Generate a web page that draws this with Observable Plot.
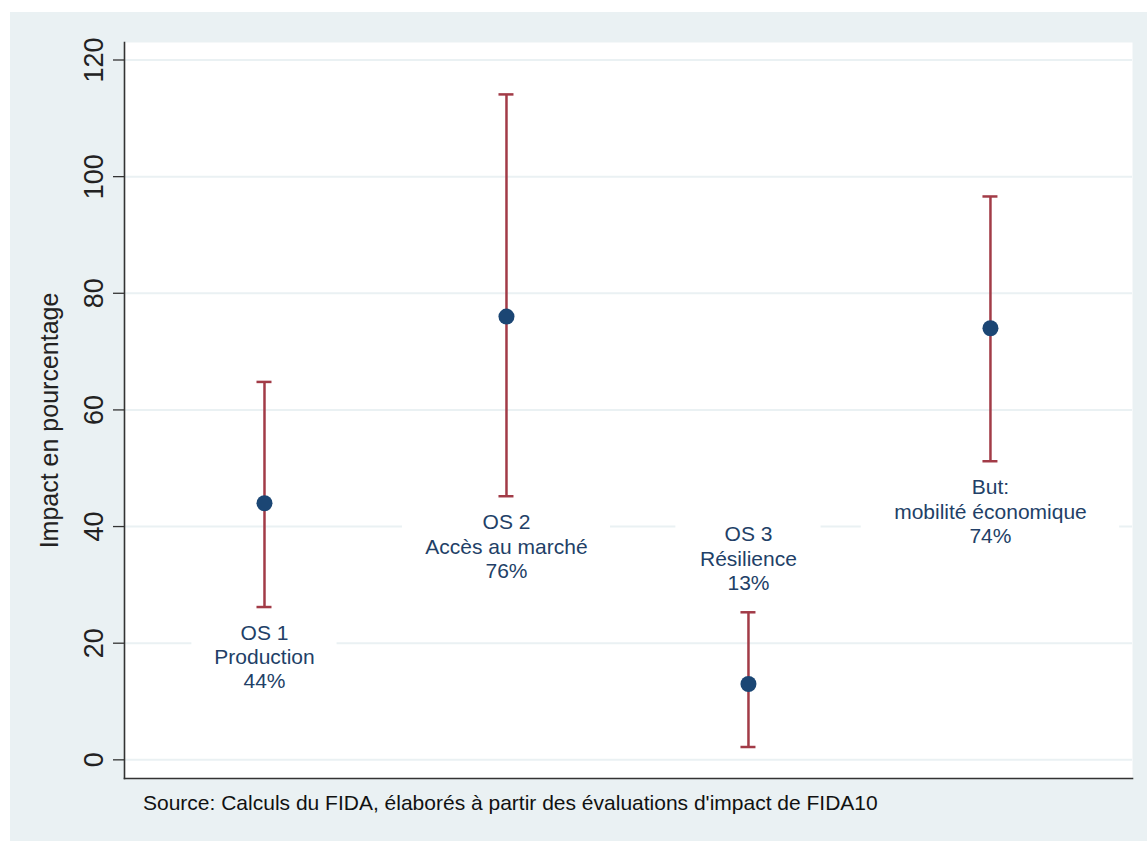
<!DOCTYPE html>
<html><head><meta charset="utf-8">
<script src="https://cdn.jsdelivr.net/npm/d3@7"></script>
<script src="https://cdn.jsdelivr.net/npm/@observablehq/plot@0.6"></script>
<style>
body{margin:0;background:#fff;font-family:"Liberation Sans",Arial,sans-serif;}
#wrap{position:absolute;left:10px;top:12px;width:1137px;height:829px;background:#EAF1F3;}
#chart svg{display:block;}
#cap{position:absolute;left:133px;top:779px;font-size:21px;color:#111;line-height:24px;white-space:nowrap;}
</style></head><body>
<div id="wrap"><div id="chart"></div><div id="cap">Source: Calculs du FIDA, élaborés à partir des évaluations d'impact de FIDA10</div></div>
<script>
const names = ["OS 1", "OS 2", "OS 3", "But:"];
const themes = ["Production", "Accès au marché", "Résilience", "mobilité économique"];
const impact = [44, 76, 13, 74];
const lower = [26.2, 45.2, 2.2, 51.2];
const upper = [64.8, 114.1, 25.3, 96.6];
const yTicks = [0, 20, 40, 60, 80, 100, 120];
const yTitle = "Impact en pourcentage";

const data = names.map((n, i) => ({
  pos: i + 1, name: n, theme: themes[i], impact: impact[i], lo: lower[i], hi: upper[i],
  label: `${n}\n${themes[i]}\n${impact[i]}%`, above: lower[i] < 15,
  hw: Math.max(n.length, themes[i].length) * 0.026 + 0.04
}));
const below = data.filter(d => !d.above);
const aboveD = data.filter(d => d.above);

const ebColor = "#A23B47";
const txtColor = "#223F67";
const capW = 0.031;

const chart = Plot.plot({
  width: 1137, height: 780,
  marginLeft: 114, marginRight: 15, marginTop: 30, marginBottom: 14,
  style: {background: "#EAF1F3", fontFamily: "'Liberation Sans', Arial, sans-serif", color: "#222"},
  x: {domain: [0.4215, 4.587], axis: null},
  y: {domain: [-3.2, 123]},
  marks: [
    Plot.frame({fill: "white", stroke: "none"}),
    Plot.ruleY(yTicks, {stroke: "#EAF1F3", strokeWidth: 2}),
    Plot.rect(data, {
      x1: d => d.pos - d.hw, x2: d => d.pos + d.hw,
      y1: d => d.above ? d.hi + 1.2 : d.lo - 1.5,
      y2: d => d.above ? d.hi + 16 : d.lo - 15,
      fill: "white"
    }),
    Plot.ruleX(data, {x: "pos", y1: "lo", y2: "hi", stroke: ebColor, strokeWidth: 2.5}),
    Plot.ruleY(data, {y: "lo", x1: d => d.pos - capW, x2: d => d.pos + capW, stroke: ebColor, strokeWidth: 2.5}),
    Plot.ruleY(data, {y: "hi", x1: d => d.pos - capW, x2: d => d.pos + capW, stroke: ebColor, strokeWidth: 2.5}),
    Plot.dot(data, {x: "pos", y: "impact", r: 8, fill: "#1B4674", stroke: "none"}),
    Plot.text(below, {x: "pos", y: "lo", text: "label", lineAnchor: "top", dy: 16, fontSize: 21, lineHeight: 1.15, fill: txtColor}),
    Plot.text(aboveD, {x: "pos", y: "hi", text: "label", lineAnchor: "bottom", dy: -22, fontSize: 21, lineHeight: 1.17, fill: txtColor}),
    Plot.axisY(yTicks, {tickSize: 11, tickPadding: 11, tickRotate: -90, fontSize: 27, label: null, stroke: "#333", strokeWidth: 1.3, fill: "#222"}),
    Plot.text([yTitle], {frameAnchor: "left", text: d => d, rotate: -90, dx: -84, dy: 10, lineAnchor: "top", textAnchor: "middle", fontSize: 25, fill: "#222"}),
    Plot.frame({anchor: "left", stroke: "#333", strokeWidth: 1.6}),
    Plot.frame({anchor: "bottom", stroke: "#333", strokeWidth: 1.6})
  ]
});
document.getElementById("chart").appendChild(chart);
</script>
</body></html>
